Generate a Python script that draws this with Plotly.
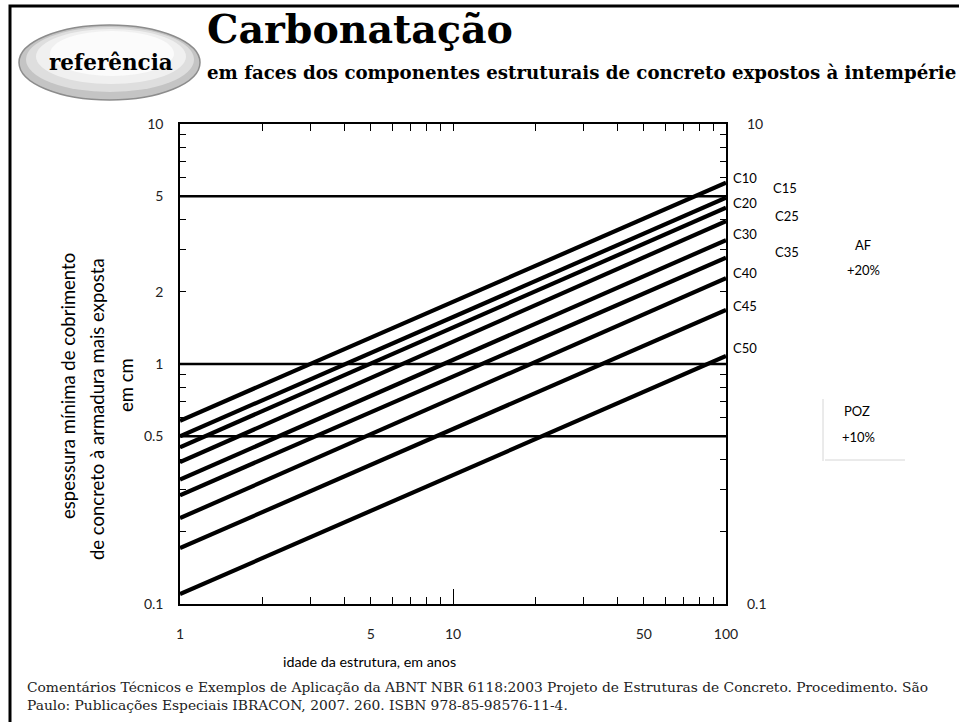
import plotly.graph_objects as go

W, H = 959, 722

# ---------------- data ----------------
classes = ["C10", "C15", "C20", "C25", "C30", "C35", "C40", "C45", "C50"]
ages = [1, 100]                       # idade da estrutura, anos
cover_at_1yr = [0.58, 0.50, 0.45, 0.39, 0.33, 0.284, 0.228, 0.171, 0.110]
cover_at_100yr = [5.69, 4.93, 4.48, 3.94, 3.28, 2.77, 2.28, 1.68, 1.08]
limit_levels = [5, 1, 0.5]            # horizontal reference lines, cm

x_tickvals = [1, 5, 10, 50, 100]
x_ticktext = ["1", "5", "10", "50", "100"]
x_minor = [2, 3, 4, 6, 7, 8, 9, 20, 30, 40, 60, 70, 80, 90]
y_tickvals = [0.1, 0.5, 1, 2, 5, 10]
y_ticktext = ["0.1", "0.5", "1", "2", "5", "10"]
y_minor = [0.2, 0.3, 0.4, 0.6, 0.7, 0.8, 0.9, 3, 4, 6, 7, 8, 9]
right_tickvals = [0.1, 10]
right_ticktext = ["0.1", "10"]


def px(x):
    return x / W


def py(y):
    return 1 - y / H


SANS = "Lato"
SERIF = "DejaVu Serif"

fig = go.Figure()

for cls, a, b in zip(classes, cover_at_1yr, cover_at_100yr):
    fig.add_trace(go.Scatter(x=ages, y=[a, b], mode="lines", name=cls,
                             line=dict(color="black", width=4.2),
                             hoverinfo="name"))

for lv in limit_levels:
    fig.add_trace(go.Scatter(x=ages, y=[lv, lv], mode="lines",
                             xaxis="x3", yaxis="y2",
                             line=dict(color="black", width=2.6),
                             hoverinfo="skip"))

tickfont = dict(family=SANS, size=14, color="#222")

fig.update_layout(
    width=W, height=H,
    margin=dict(l=0, r=0, t=0, b=0),
    paper_bgcolor="white", plot_bgcolor="white",
    showlegend=False,
    xaxis=dict(
        type="log", range=[0, 2],
        domain=[180 / W, 726 / W],
        tickmode="array", tickvals=x_tickvals, ticktext=x_ticktext,
        ticks="inside", ticklen=7, tickwidth=1, tickcolor="black",
        minor=dict(tickmode="array", tickvals=x_minor, ticks="inside",
                   ticklen=7, tickwidth=1, tickcolor="black", showgrid=False),
        showline=True, linecolor="black", linewidth=1.5, mirror="ticks",
        showgrid=False, zeroline=False, tickfont=tickfont,
        ticklabelstandoff=16, automargin=False,
    ),
    xaxis3=dict(
        type="log", range=[0, 2], overlaying="x", anchor="y",
        tickmode="array", tickvals=[10], ticks="inside", ticklen=15,
        tickwidth=1, tickcolor="black", showticklabels=False,
        showline=False, showgrid=False, zeroline=False, automargin=False,
    ),
    yaxis=dict(
        type="log", range=[-1, 1],
        domain=[(H - 604) / H, (H - 124) / H],
        tickmode="array", tickvals=y_tickvals, ticktext=y_ticktext,
        ticks="inside", ticklen=6, tickwidth=1, tickcolor="black",
        minor=dict(tickmode="array", tickvals=y_minor, ticks="inside",
                   ticklen=6, tickwidth=1, tickcolor="black", showgrid=False),
        showline=True, linecolor="black", linewidth=1.5, mirror="ticks",
        showgrid=False, zeroline=False, tickfont=tickfont,
        ticklabelstandoff=12, automargin=False,
    ),
    yaxis2=dict(
        type="log", range=[-1, 1], overlaying="y", side="right", anchor="x3",
        tickmode="array", tickvals=right_tickvals, ticktext=right_ticktext,
        ticks="", showline=False, showgrid=False, zeroline=False,
        tickfont=tickfont, ticklabelstandoff=20, automargin=False,
    ),
)

ann = []


def A(x, y, text, size, family=SANS, color="black", angle=0,
      xanchor="center", yanchor="middle", bold=False):
    if bold:
        text = "<b>" + text + "</b>"
    ann.append(dict(x=px(x), y=py(y), xref="paper", yref="paper",
                    text=text, showarrow=False, textangle=angle,
                    xanchor=xanchor, yanchor=yanchor,
                    font=dict(family=family, size=size, color=color)))


# class labels at right side
label_pos = {
    "C10": (745, 178), "C15": (785, 188), "C20": (745, 203),
    "C25": (787, 216), "C30": (745, 234), "C35": (787, 252),
    "C40": (745, 273), "C45": (745, 306), "C50": (745, 348),
}
for cls in classes:
    x, y = label_pos[cls]
    A(x, y, cls, 13)

A(863, 245, "AF", 13)
A(863, 270, "+20%", 13)
A(857, 411, "POZ", 13)
A(858, 437, "+10%", 13)

# axis titles
A(369, 661, "idade da estrutura, em anos", 14.3)
A(68, 386, "espessura mínima de cobrimento", 18.5, angle=-90)
A(97, 409, "de concreto à armadura mais exposta", 18.5, angle=-90)
A(126, 385, "em cm", 18.5, angle=-90)

# header
A(205, 29, "Carbonatação", 39.5, family=SERIF, bold=True, xanchor="left")
A(205, 72, "em faces dos componentes estruturais de concreto expostos à intempérie",
  18.2, family=SERIF, bold=True, xanchor="left")
A(111, 63, "referência", 21.5, family=SERIF, bold=True)

# footnote
A(25, 687, "Comentários Técnicos e Exemplos de Aplicação da ABNT NBR 6118:2003 "
  "Projeto de Estruturas de Concreto. Procedimento. São", 13.8,
  family=SERIF, xanchor="left", color="#222")
A(25, 705, "Paulo: Publicações Especiais IBRACON, 2007. 260. ISBN 978-85-98576-11-4.",
  13.8, family=SERIF, xanchor="left", color="#222")

fig.update_layout(annotations=ann)

shapes = []
# page frame
shapes.append(dict(type="rect", xref="paper", yref="paper",
                   x0=px(10), x1=px(975), y0=py(740), y1=py(6),
                   line=dict(color="black", width=3), fillcolor="rgba(0,0,0,0)",
                   layer="below"))
# ellipse badge (layered for a soft gradient)
shapes.append(dict(type="circle", xref="paper", yref="paper",
                   x0=px(19), x1=px(200), y0=py(100), y1=py(25),
                   line=dict(color="#8c8c8c", width=1.5), fillcolor="#c4c4c4",
                   layer="below"))
shapes.append(dict(type="circle", xref="paper", yref="paper",
                   x0=px(26), x1=px(194), y0=py(92), y1=py(27),
                   line=dict(width=0), fillcolor="#dedede", layer="below"))
shapes.append(dict(type="circle", xref="paper", yref="paper",
                   x0=px(36), x1=px(186), y0=py(84), y1=py(29),
                   line=dict(width=0), fillcolor="#f0f0f0", layer="below"))
shapes.append(dict(type="circle", xref="paper", yref="paper",
                   x0=px(50), x1=px(174), y0=py(76), y1=py(31),
                   line=dict(width=0), fillcolor="#fbfbfb", layer="below"))
# light grey bracket by POZ
shapes.append(dict(type="line", xref="paper", yref="paper",
                   x0=px(823), x1=px(823), y0=py(399), y1=py(461),
                   line=dict(color="#d6d6d6", width=1)))
shapes.append(dict(type="line", xref="paper", yref="paper",
                   x0=px(825), x1=px(905), y0=py(460), y1=py(460),
                   line=dict(color="#d6d6d6", width=1)))
fig.update_layout(shapes=shapes)

fig.write_html("out.html", config={"displayModeBar": False},
               post_script="document.body.style.margin='0px';")
